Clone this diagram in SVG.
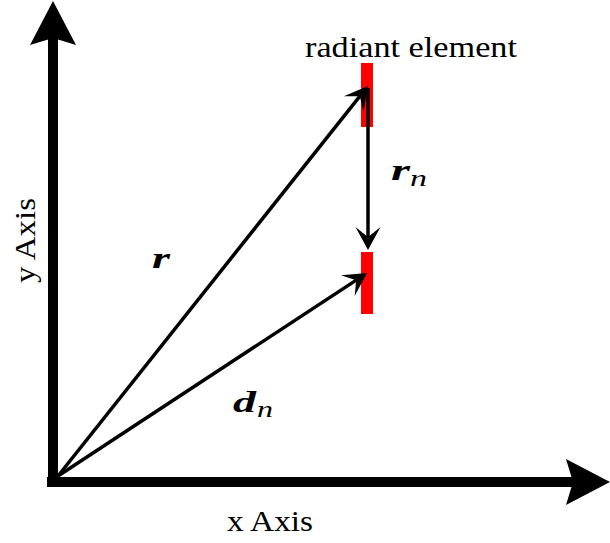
<svg xmlns="http://www.w3.org/2000/svg" width="610" height="543" viewBox="0 0 610 543">
  <style>
    .lbl { font-family: "Liberation Serif", "DejaVu Serif", serif; font-size: 30px; fill: #000; }
    .bvec { font-family: "Liberation Serif", "DejaVu Serif", serif; font-style: italic; font-weight: bold; font-size: 30px; fill: #000; }
    .sub { font-family: "Liberation Serif", "DejaVu Serif", serif; font-style: italic; font-size: 24px; fill: #000; }
    .vec { stroke: #000; stroke-width: 3.5; fill: none; marker-end: url(#vhead); }
    .axis { stroke: #000; stroke-width: 10; fill: none; marker-end: url(#ahead); }
    .elem { fill: #ff0000; }
  </style>
  <defs>
    <marker id="vhead" markerUnits="userSpaceOnUse" orient="auto" refX="0" refY="0" markerWidth="40" markerHeight="40" overflow="visible">
      <path d="M12,0 L-11,-12.5 L-1,0 L-11,12.5 Z" fill="#000"/>
    </marker>
    <marker id="ahead" markerUnits="userSpaceOnUse" orient="auto" refX="0" refY="0" markerWidth="80" markerHeight="80" overflow="visible">
      <path d="M20,0 L-24,-23 L-17,0 L-24,23 Z" fill="#000"/>
    </marker>
  </defs>

  <g id="axes">
    <line class="axis" x1="53" y1="487" x2="53" y2="21"/>
    <line class="axis" x1="47" y1="482" x2="590" y2="482"/>
    <text class="lbl" x="227" y="531" textLength="86" lengthAdjust="spacingAndGlyphs">x Axis</text>
    <text class="lbl" transform="translate(35,283) rotate(-90)" x="0" y="0" textLength="85" lengthAdjust="spacingAndGlyphs">y Axis</text>
  </g>

  <g id="element-top">
    <rect class="elem" x="361" y="63" width="12" height="64"/>
    <text class="lbl" x="305" y="57" textLength="212" lengthAdjust="spacingAndGlyphs">radiant element</text>
  </g>
  <g id="element-bottom">
    <rect class="elem" x="361" y="252" width="12" height="62"/>
  </g>

  <g id="connectors">
    <line class="vec" x1="58" y1="476" x2="360.5" y2="95.4"/>
    <line class="vec" x1="58" y1="476" x2="357" y2="279.6"/>
    <line class="vec" x1="368" y1="88" x2="368" y2="238"/>
  </g>

  <g id="labels">
    <text class="bvec" x="152" y="268" textLength="18" lengthAdjust="spacingAndGlyphs">r</text>
    <text class="bvec" x="391" y="180" textLength="19" lengthAdjust="spacingAndGlyphs">r</text>
    <text class="sub" x="410" y="186" textLength="17" lengthAdjust="spacingAndGlyphs">n</text>
    <text class="bvec" x="233" y="412" textLength="23" lengthAdjust="spacingAndGlyphs">d</text>
    <text class="sub" x="257" y="417" textLength="16" lengthAdjust="spacingAndGlyphs">n</text>
  </g>
</svg>
